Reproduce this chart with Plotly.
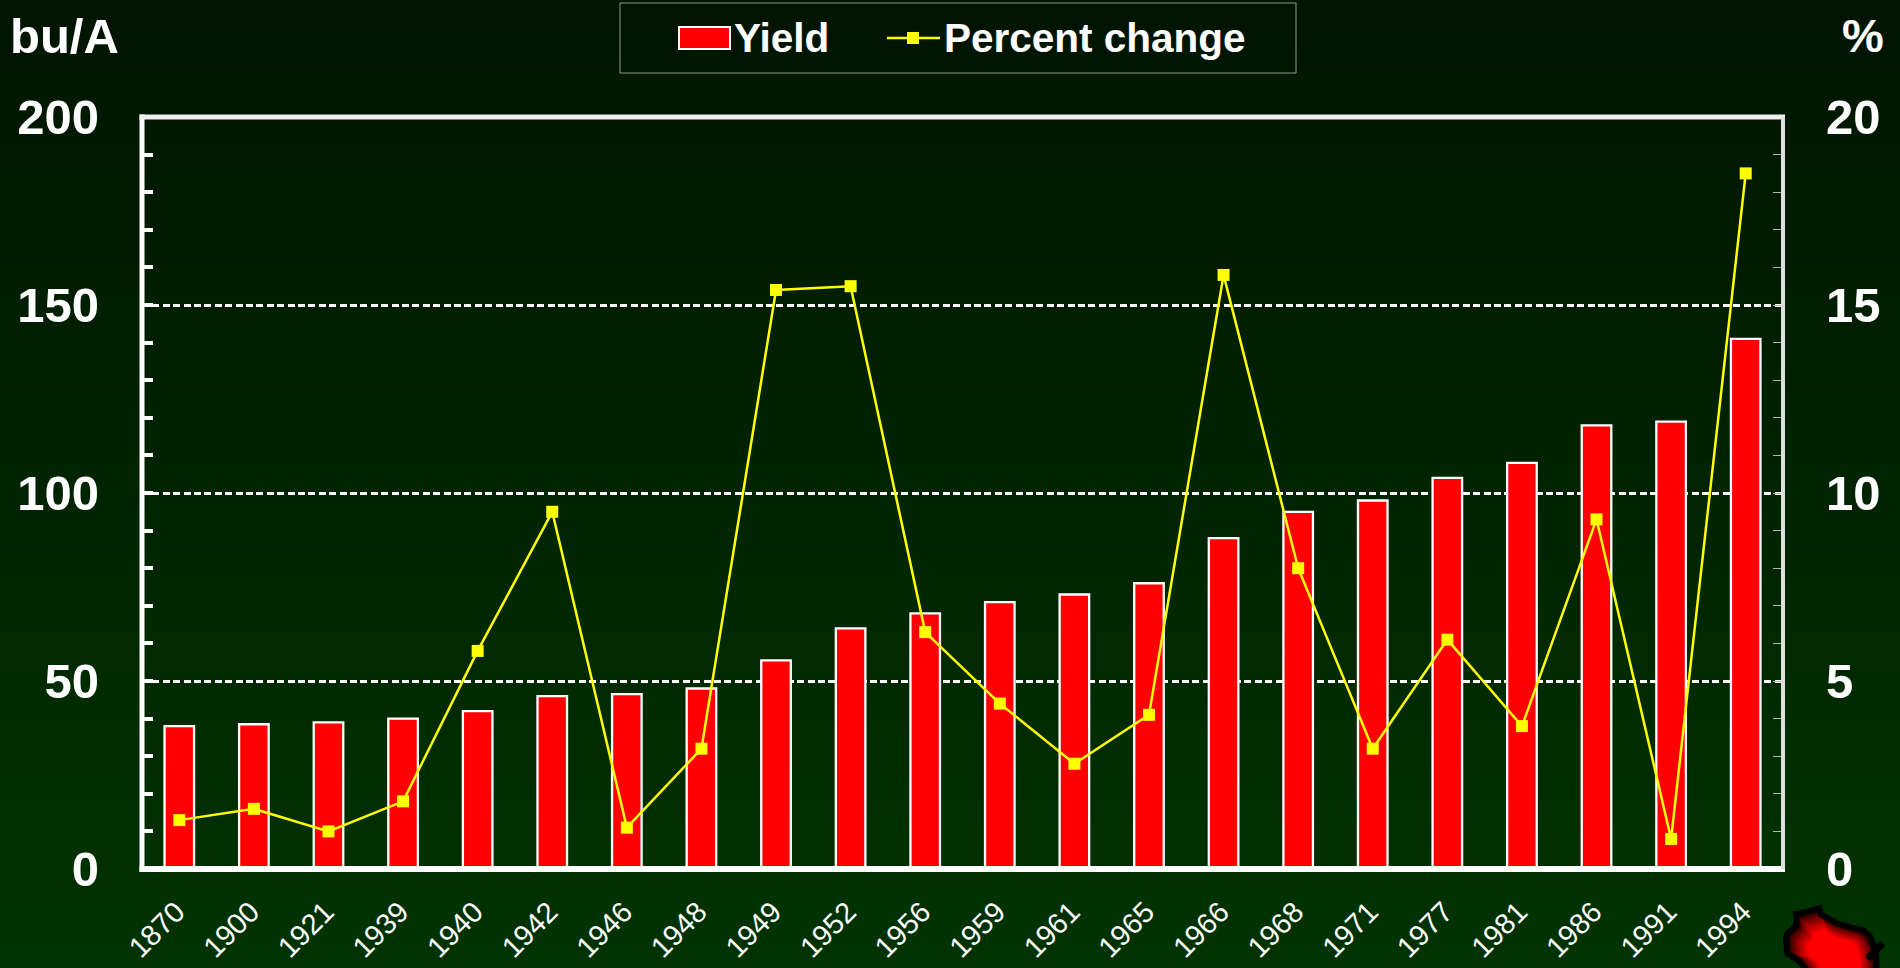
import plotly.graph_objects as go

years = ["1870","1900","1921","1939","1940","1942","1946","1948","1949","1952","1956",
         "1959","1961","1965","1966","1968","1971","1977","1981","1986","1991","1994"]
yield_bu = [38, 38.5, 39, 40, 42, 46, 46.5, 48, 55.5, 64, 68, 71, 73, 76, 88, 95, 98, 104, 108, 118, 119, 141]
pct_change = [1.3, 1.6, 1.0, 1.8, 5.8, 9.5, 1.1, 3.2, 15.4, 15.5, 6.3, 4.4, 2.8, 4.1, 15.8, 8.0, 3.2, 6.1, 3.8, 9.3, 0.8, 18.5]

W, H = 1900, 968
L, R, T, B = 142, 1783, 117, 869
FONT = "Liberation Sans, Arial, sans-serif"

def px(x): return (x - L) / (R - L)
def py(y): return (B - y) / (B - T)

shapes = []
# background gradient
N = 40
for i in range(N):
    g = round(20 + (51 - 20) * (i + .5) / N)
    shapes.append(dict(type="rect", xref="paper", yref="paper", layer="below",
                       x0=px(0), x1=px(W), y0=py(H * i / N), y1=py(H * (i + 1) / N + 1),
                       fillcolor=f"rgb(0,{g},0)", line_width=0))

def seg(x0, y0, x1, y1, color="#ffffff", w=2):
    shapes.append(dict(type="line", xref="paper", yref="paper", x0=px(x0), y0=py(y0), x1=px(x1), y1=py(y1),
                       line=dict(color=color, width=w)))

# frame
seg(L, T - 2.5, L, B + 3, w=5)
seg(L - 2.5, B, R + 2, B, w=6)
seg(L - 2.5, T, R + 2, T, color="#f0f0f0", w=5)
seg(R, T, R, B, color="#e0e0e0", w=4)

# legend
shapes.append(dict(type="rect", xref="paper", yref="paper", x0=px(620), x1=px(1296), y0=py(3), y1=py(73),
                   fillcolor="rgba(0,0,0,0)", line=dict(color="#8a9a8a", width=1)))
shapes.append(dict(type="rect", xref="paper", yref="paper", x0=px(679), x1=px(730), y0=py(27), y1=py(49),
                   fillcolor="#ff0000", line=dict(color="#ffffff", width=2)))
seg(887, 38, 940, 38, color="#ffff00", w=2.5)
shapes.append(dict(type="rect", xref="paper", yref="paper", x0=px(907), x1=px(919), y0=py(32), y1=py(44),
                   fillcolor="#ffff00", line_width=0))

# Wisconsin emblem
outline = [(52,132),(80,105),(78,72),(92,70),(148,55),(152,72),(200,100),(280,122),(300,138),(318,190),
           (320,270),(130,270),(90,215),(52,190),(48,145)]
outline = [(1770 + a / 3, 890 + b / 3) for a, b in outline]
cx, cy = 1837, 958
def poly(s):
    pts = [(cx + (a - cx) * s, cy + (b - cy) * s) for a, b in outline]
    return "M" + "L".join(f"{px(a):.5f},{py(b):.5f}" for a, b in pts) + "Z"
M = 30
for k in range(M):
    s = 1 - k / M
    r = min(255, int(255 * 2.0 * (k / M) ** 0.8))
    shapes.append(dict(type="path", xref="paper", yref="paper", path=poly(s), fillcolor=f"rgb({r},0,0)", line_width=0))
shapes.append(dict(type="path", xref="paper", yref="paper", path=poly(1), fillcolor="rgba(0,0,0,0)",
                   line=dict(color="#000000", width=6)))
seg(1770 + 292 / 3, 890 + 207 / 3, 1770 + 338 / 3, 890 + 160 / 3, color="#000000", w=7)

def label(text, x, y, anchor="left", size=48):
    return dict(text=text, xref="paper", yref="paper", x=px(x), y=py(y), xanchor=anchor, yanchor="middle",
                showarrow=False, font=dict(family=FONT, size=size, color="#ffffff", weight="bold"))

annotations = [label("bu/A", 8, 36, size=49), label("%", 1840, 36, size=47),
               label("Yield", 732, 38, size=40.5), label("Percent change", 942, 38, size=40.5)]

fig = go.Figure()
fig.add_trace(go.Bar(x=years, y=yield_bu, name="Yield", marker=dict(color="#ff0000", line=dict(color="#ffffff", width=2.3)), width=0.396, xaxis="x", yaxis="y"))
fig.add_trace(go.Scatter(x=years, y=pct_change, name="Percent change", mode="lines+markers", yaxis="y2",
                         line=dict(color="#ffff00", width=2.5), marker=dict(symbol="square", size=12, color="#ffff00")))

fig.update_layout(
    width=W, height=H, autosize=False, showlegend=False,
    margin=dict(l=L, r=W - R, t=T, b=H - B, pad=0, autoexpand=False),
    paper_bgcolor="#002400", plot_bgcolor="rgba(0,0,0,0)",
    shapes=shapes, annotations=annotations,
    font=dict(family=FONT, color="#ffffff"),
    xaxis=dict(type="category", range=[-0.5, 21.5], showgrid=False, showline=False, zeroline=False, ticks="",
               tickangle=-45, tickfont=dict(size=29, color="#ffffff"), ticklabelstandoff=19, ticklabelshift=-3),
    yaxis=dict(range=[0, 200], tickvals=[0, 50, 100, 150, 200], showline=False, zeroline=False,
               showgrid=True, gridcolor="#ffffff", gridwidth=2.6, griddash="7px,3.4px",
               ticks="inside", ticklen=11, tickwidth=4, tickcolor="#ffffff",
               tickfont=dict(size=49, color="#ffffff", weight="bold"), ticklabelstandoff=42,
               minor=dict(dtick=10, ticks="inside", ticklen=11, tickwidth=4, tickcolor="#ffffff", showgrid=False)),
    yaxis2=dict(range=[0, 20], overlaying="y", side="right", dtick=5, showline=False, zeroline=False, showgrid=False,
                ticks="inside", ticklen=10, tickwidth=1, tickcolor="#b0b8b0",
                tickfont=dict(size=49, color="#ffffff", weight="bold"), ticklabelstandoff=42,
                minor=dict(dtick=1, ticks="inside", ticklen=10, tickwidth=1, tickcolor="#b0b8b0", showgrid=False)),
)
fig.write_html("out.html", config=dict(displayModeBar=False),
               post_script="document.body.style.margin='0';document.body.style.overflow='hidden';")
